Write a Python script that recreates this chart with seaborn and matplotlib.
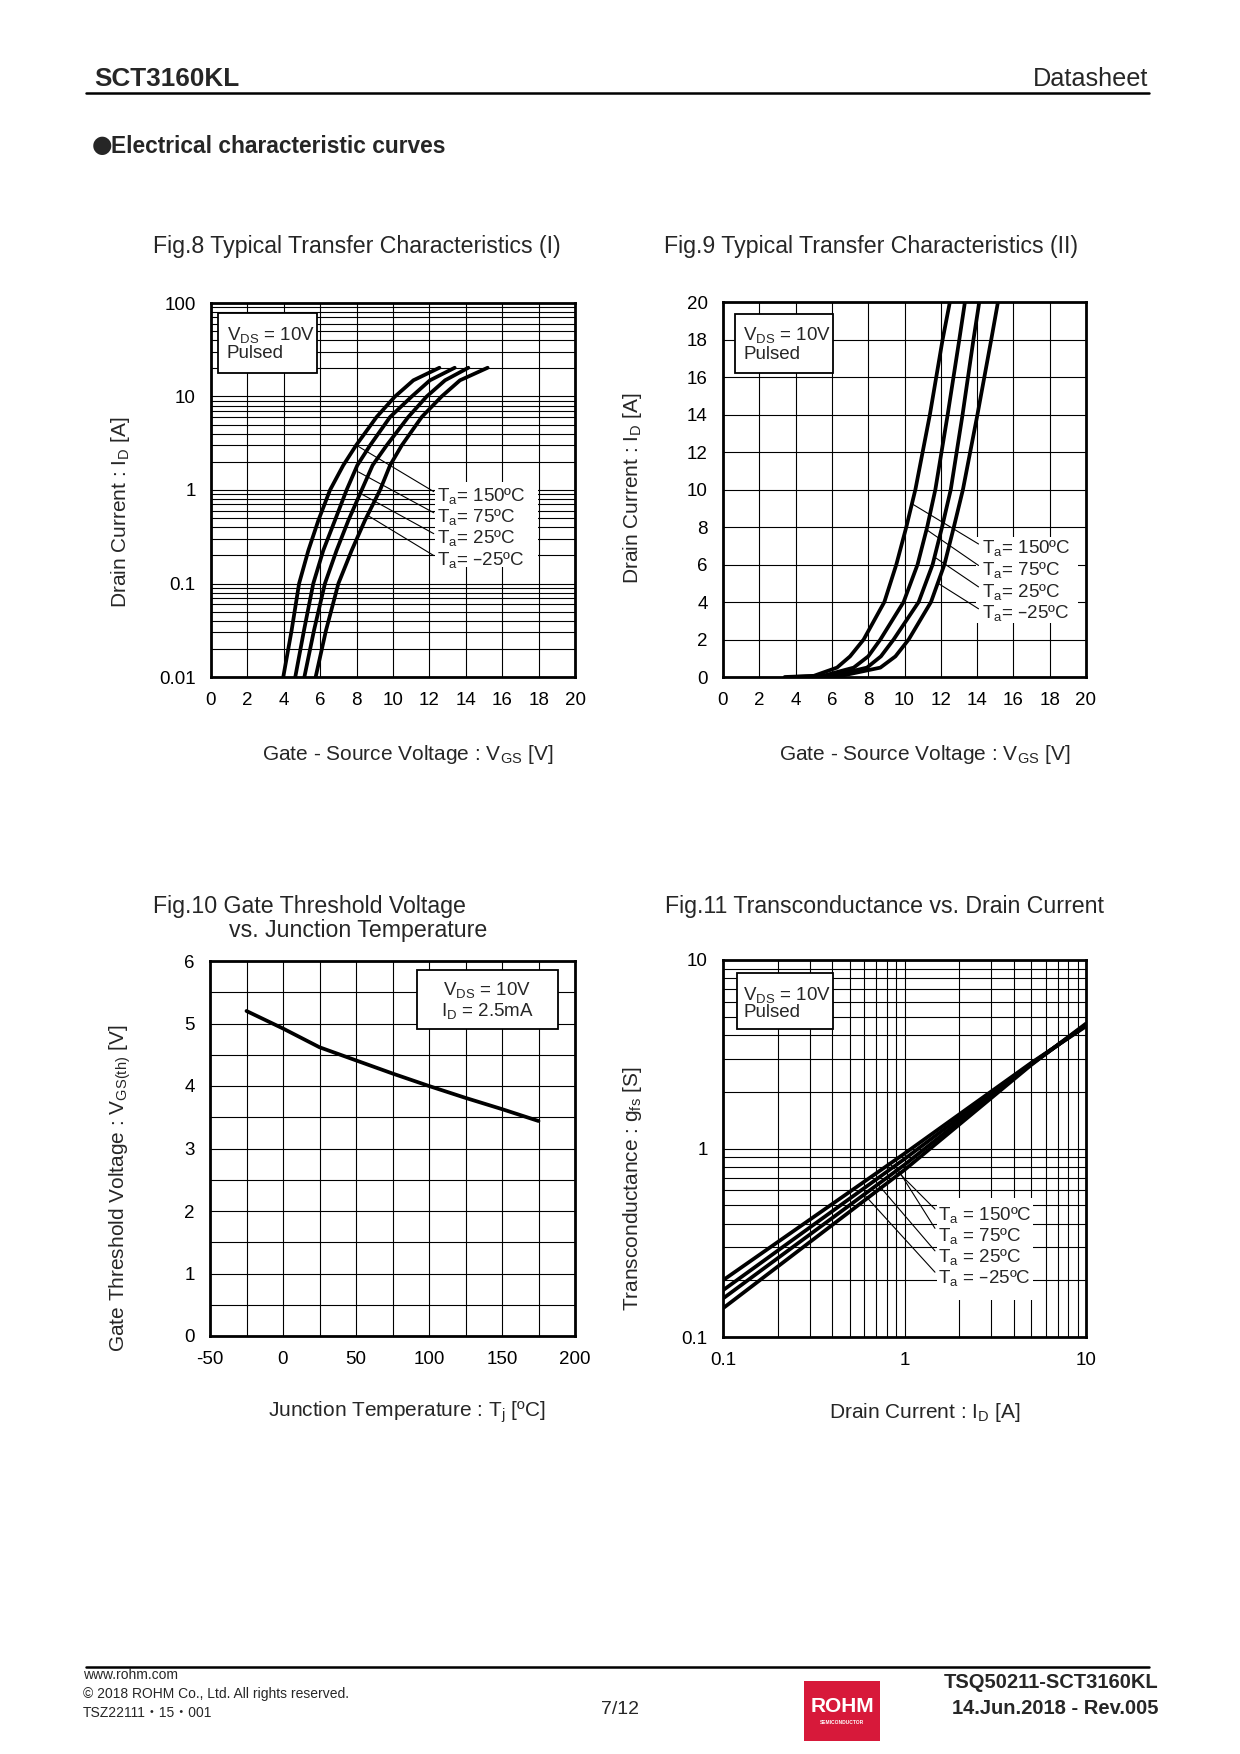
import numpy as np
import pandas as pd
import matplotlib
matplotlib.use('Agg')
import matplotlib.pyplot as plt
from matplotlib.patches import Rectangle
from matplotlib.lines import Line2D
from matplotlib.ticker import MultipleLocator, FixedLocator, NullFormatter, LogLocator
import seaborn as sns

sns.set_style('white')
plt.rcParams['font.family'] = ['Liberation Sans', 'DejaVu Sans']
plt.rcParams['mathtext.default'] = 'regular'
plt.rcParams['axes.unicode_minus'] = False
NARROW = ['Liberation Sans Narrow', 'Liberation Sans', 'DejaVu Sans']

W, H = 1240, 1754
LABEL_FS = 15
TICK_FS = 13.5

# 温度标签
temps = ['150ºC', '75ºC', '25ºC', '–25ºC']

# Fig.8 传输特性 (对数)
fig8_id = [0.01, 0.0316, 0.1, 0.226, 0.474, 1.0, 1.84, 3.0, 6.04, 10.0, 14.9, 20.3]
fig8_vgs_150 = [3.97, 4.43, 4.84, 5.35, 5.90, 6.54, 7.27, 7.97, 9.10, 10.11, 11.12, 12.55]
fig8_vgs_75 = [4.63, 5.11, 5.62, 6.17, 6.81, 7.45, 8.04, 8.74, 9.84, 11.03, 12.03, 13.39]
fig8_vgs_25 = [5.13, 5.66, 6.26, 6.90, 7.55, 8.28, 8.88, 9.65, 10.84, 11.85, 12.86, 14.14]
fig8_vgs_m25 = [5.75, 6.32, 7.00, 7.73, 8.46, 9.29, 9.84, 10.48, 11.58, 12.67, 13.68, 15.20]

# Fig.9 传输特性 (线性)
fig9_id = [0, 0.06, 0.5, 1.1, 2, 4, 6, 8, 10, 14, 18, 20]
fig9_vgs_150 = [3.4, 5.0, 6.28, 7.0, 7.75, 8.89, 9.55, 10.1, 10.6, 11.4, 12.1, 12.5]
fig9_vgs_75 = [3.8, 5.5, 7.2, 8.0, 8.67, 9.95, 10.72, 11.25, 11.7, 12.38, 13.02, 13.33]
fig9_vgs_25 = [4.2, 6.0, 7.93, 8.7, 9.4, 10.78, 11.55, 12.07, 12.55, 13.2, 13.8, 14.12]
fig9_vgs_m25 = [4.6, 6.5, 8.67, 9.5, 10.23, 11.46, 12.2, 12.72, 13.22, 14.02, 14.78, 15.15]

# Fig.10 阈值电压
fig10_tj = [-25, 0, 25, 50, 75, 100, 125, 150, 175]
fig10_vth = [5.2, 4.92, 4.62, 4.41, 4.2, 4.0, 3.81, 3.63, 3.44]

# Fig.11 跨导
fig11_id = [0.1, 1, 5, 10]
fig11_gfs_150 = [0.20, 0.94, 2.85, 4.45]
fig11_gfs_75 = [0.177, 0.88, 2.82, 4.5]
fig11_gfs_25 = [0.16, 0.82, 2.80, 4.55]
fig11_gfs_m25 = [0.142, 0.77, 2.78, 4.6]

df8 = pd.concat([pd.DataFrame({'Vgs': v, 'Id': fig8_id, 'Ta': t}) for t, v in
                 zip(temps, [fig8_vgs_150, fig8_vgs_75, fig8_vgs_25, fig8_vgs_m25])])
df9 = pd.concat([pd.DataFrame({'Vgs': v, 'Id': fig9_id, 'Ta': t}) for t, v in
                 zip(temps, [fig9_vgs_150, fig9_vgs_75, fig9_vgs_25, fig9_vgs_m25])])
df10 = pd.DataFrame({'Tj': fig10_tj, 'Vth': fig10_vth})
df11 = pd.concat([pd.DataFrame({'Id': fig11_id, 'gfs': g, 'Ta': t}) for t, g in
                  zip(temps, [fig11_gfs_150, fig11_gfs_75, fig11_gfs_25, fig11_gfs_m25])])

fig = plt.figure(figsize=(W / 100, H / 100), dpi=100)


def px_axes(left, top, right, bottom):
    return fig.add_axes([left / W, 1 - bottom / H, (right - left) / W, (bottom - top) / H])


def style_axes(ax):
    ax.set_axisbelow(True)
    ax.grid(True, which='both', color='black', lw=0.8)
    for s in ax.spines.values():
        s.set_linewidth(2.0)
        s.set_color('black')
    ax.tick_params(which='both', length=0, pad=11, labelsize=TICK_FS, colors='black')


def cond_box(ax, x0, y0, w, h, lines, tx, tys, ha='left'):
    ax.add_patch(Rectangle((x0, y0), w, h, transform=ax.transAxes, facecolor='white',
                           edgecolor='black', lw=1.3, zorder=4))
    for line, ty in zip(lines, tys):
        ax.text(tx, ty, line, transform=ax.transAxes, ha=ha, va='center', fontsize=13.5, zorder=5)


def white_patch(ax, x0, y0, x1, y1):
    ax.add_patch(Rectangle((x0, y0), x1 - x0, y1 - y0, transform=ax.transAxes,
                           facecolor='white', edgecolor='none', zorder=1))


def leaders(ax, pts, tx, tys, fmt):
    for t, p, ty in zip(temps, pts, tys):
        ax.annotate(fmt.format(t), xy=p, xycoords='data', xytext=(tx, ty), textcoords='axes fraction',
                    ha='left', va='center', fontsize=13.5, zorder=5,
                    arrowprops=dict(arrowstyle='-', lw=0.8, color='black', shrinkA=0, shrinkB=0,
                                    relpos=(0, 0.62)))


black4 = ['black'] * 4

# ---------------- Fig.8 ----------------
ax8 = px_axes(211, 303, 575, 677)
sns.lineplot(data=df8, x='Vgs', y='Id', hue='Ta', palette=black4, sort=False, estimator=None,
             lw=2.7, legend=False, ax=ax8, zorder=3)
ax8.set_yscale('log')
ax8.set_xlim(0, 20)
ax8.set_ylim(0.01, 100)
ax8.xaxis.set_major_locator(MultipleLocator(2))
ax8.yaxis.set_major_locator(FixedLocator([0.01, 0.1, 1, 10, 100]))
ax8.set_yticklabels(['0.01', '0.1', '1', '10', '100'])
ax8.yaxis.set_minor_locator(LogLocator(base=10, subs=np.arange(2, 10)))
ax8.yaxis.set_minor_formatter(NullFormatter())
style_axes(ax8)
white_patch(ax8, 0.615, 0.294, 0.898, 0.521)
leaders(ax8, [(8.0, 3.0), (8.1, 1.56), (8.25, 0.91), (8.6, 0.536)], 0.621,
        [0.484, 0.428, 0.372, 0.313], 'T$_a$= {}')
cond_box(ax8, 0.02, 0.814, 0.27, 0.159, ['V$_{DS}$ = 10V', 'Pulsed'], 0.043, [0.914, 0.866])
ax8.set_xlabel('Gate - Source Voltage : V$_{GS}$ [V]', fontsize=LABEL_FS, va='center')
ax8.xaxis.set_label_coords(0.541, -0.206)
ax8.set_ylabel('Drain Current : I$_D$ [A]', fontsize=LABEL_FS, va='center')
ax8.yaxis.set_label_coords(-0.25, 0.441)

# ---------------- Fig.9 ----------------
ax9 = px_axes(723, 302, 1086, 677)
sns.lineplot(data=df9, x='Vgs', y='Id', hue='Ta', palette=black4, sort=False, estimator=None,
             lw=2.7, legend=False, ax=ax9, zorder=3)
ax9.set_xlim(0, 20)
ax9.set_ylim(0, 20)
ax9.xaxis.set_major_locator(MultipleLocator(2))
ax9.yaxis.set_major_locator(MultipleLocator(2))
style_axes(ax9)
white_patch(ax9, 0.697, 0.143, 0.979, 0.374)
leaders(ax9, [(10.41, 9.24), (11.21, 7.86), (11.65, 6.4), (11.83, 5.01)], 0.713,
        [0.343, 0.285, 0.228, 0.170], 'T$_a$= {}')
cond_box(ax9, 0.033, 0.811, 0.27, 0.157, ['V$_{DS}$ = 10V', 'Pulsed'], 0.056, [0.912, 0.861])
ax9.set_xlabel('Gate - Source Voltage : V$_{GS}$ [V]', fontsize=LABEL_FS, va='center')
ax9.xaxis.set_label_coords(0.556, -0.206)
ax9.set_ylabel('Drain Current : I$_D$ [A]', fontsize=LABEL_FS, va='center')
ax9.yaxis.set_label_coords(-0.248, 0.504)

# ---------------- Fig.10 ----------------
ax10 = px_axes(210, 961, 575, 1336)
sns.lineplot(data=df10, x='Tj', y='Vth', color='black', lw=2.7, ax=ax10, zorder=3)
ax10.set_xlim(-50, 200)
ax10.set_ylim(0, 6)
ax10.xaxis.set_major_locator(MultipleLocator(50))
ax10.xaxis.set_minor_locator(MultipleLocator(25))
ax10.yaxis.set_major_locator(MultipleLocator(1))
ax10.yaxis.set_minor_locator(MultipleLocator(0.5))
style_axes(ax10)
cond_box(ax10, 0.568, 0.818, 0.386, 0.158, ['V$_{DS}$ = 10V', 'I$_D$ = 2.5mA'], 0.760,
         [0.923, 0.867], ha='center')
ax10.set_xlabel('Junction Temperature : T$_j$ [ºC]', fontsize=LABEL_FS, va='center')
ax10.xaxis.set_label_coords(0.54, -0.203)
ax10.set_ylabel('Gate Threshold Voltage : V$_{GS(th)}$ [V]', fontsize=LABEL_FS, va='center')
ax10.yaxis.set_label_coords(-0.247, 0.395)

# ---------------- Fig.11 ----------------
ax11 = px_axes(723, 960, 1086, 1337)
sns.lineplot(data=df11, x='Id', y='gfs', hue='Ta', palette=black4, sort=False, estimator=None,
             lw=2.7, legend=False, ax=ax11, zorder=3)
ax11.set_xscale('log')
ax11.set_yscale('log')
ax11.set_xlim(0.1, 10)
ax11.set_ylim(0.1, 10)
for axis in (ax11.xaxis, ax11.yaxis):
    axis.set_major_locator(FixedLocator([0.1, 1, 10]))
    axis.set_minor_locator(LogLocator(base=10, subs=np.arange(2, 10)))
    axis.set_minor_formatter(NullFormatter())
ax11.set_xticklabels(['0.1', '1', '10'])
ax11.set_yticklabels(['0.1', '1', '10'])
style_axes(ax11)
white_patch(ax11, 0.59, 0.098, 0.854, 0.369)
leaders(ax11, [(0.82, 0.84), (0.90, 0.80), (0.71, 0.65), (0.61, 0.56)], 0.593,
        [0.324, 0.268, 0.212, 0.156], 'T$_a$ = {}')
cond_box(ax11, 0.038, 0.816, 0.266, 0.149, ['V$_{DS}$ = 10V', 'Pulsed'], 0.056, [0.907, 0.860])
ax11.set_xlabel('Drain Current : I$_D$ [A]', fontsize=LABEL_FS, va='center')
ax11.xaxis.set_label_coords(0.556, -0.2)
ax11.set_ylabel('Transconductance : g$_{fs}$ [S]', fontsize=LABEL_FS, va='center')
ax11.yaxis.set_label_coords(-0.248, 0.393)

# ---------------- 标题 ----------------
def ftext(x, y, s, **kw):
    fig.text(x / W, 1 - y / H, s, **kw)


ftext(153, 253, 'Fig.8 Typical Transfer Characteristics (I)', fontsize=16.7, family=NARROW, va='baseline')
ftext(664, 253, 'Fig.9 Typical Transfer Characteristics (II)', fontsize=16.7, family=NARROW, va='baseline')
ftext(153, 913, 'Fig.10 Gate Threshold Voltage', fontsize=16.7, family=NARROW, va='baseline')
ftext(229, 937, 'vs. Junction Temperature', fontsize=16.7, family=NARROW, va='baseline')
ftext(665, 913, 'Fig.11 Transconductance vs. Drain Current', fontsize=16.7, family=NARROW, va='baseline')

# ---------------- 页眉 ----------------
ftext(94, 86, 'SCT3160KL', fontsize=18.8, family=NARROW, weight='bold', va='baseline')
ftext(1148, 86, 'Datasheet', fontsize=18.2, family=NARROW, ha='right', va='baseline')
fig.add_artist(Line2D([86 / W, 1149 / W], [1 - 93 / H] * 2, lw=1.8, color='black'))
ftext(102, 145, '●', fontsize=17, family=['DejaVu Sans'], ha='center', va='center')
ftext(111, 153, 'Electrical characteristic curves', fontsize=16.4, weight='bold', va='baseline',
      family=NARROW)

# ---------------- 页脚 ----------------
fig.add_artist(Line2D([86 / W, 1149 / W], [1 - 1667 / H] * 2, lw=1.8, color='black'))
ftext(83, 1675, 'www.rohm.com', fontsize=10, family=NARROW, va='center')
ftext(83, 1694, '© 2018 ROHM Co., Ltd. All rights reserved.', fontsize=10, family=NARROW, va='center')
ftext(83, 1713, 'TSZ22111・15・001', fontsize=10, va='center',
      family=['Liberation Sans Narrow', 'Liberation Sans', 'Noto Sans CJK JP', 'DejaVu Sans'])
ftext(620, 1709, '7/12', fontsize=14, family=NARROW, ha='center', va='center')
ftext(1158, 1682, 'TSQ50211-SCT3160KL', fontsize=14.5, family=NARROW, weight='bold', ha='right', va='center')
ftext(1158, 1709, '14.Jun.2018 - Rev.005', fontsize=14.5, family=NARROW, weight='bold', ha='right', va='center')
fig.add_artist(Rectangle((804 / W, 1 - 1741 / H), 76 / W, 60 / H, transform=fig.transFigure,
                         facecolor='#D7193A', edgecolor='none'))
ftext(842, 1707, 'ROHM', fontsize=15, family=NARROW, weight='bold', color='white', ha='center', va='center')
ftext(842, 1723, 'SEMICONDUCTOR', fontsize=3.5, family=NARROW, weight='bold', color='white',
      ha='center', va='center')

fig.savefig('out.png', dpi=100, facecolor='white')
